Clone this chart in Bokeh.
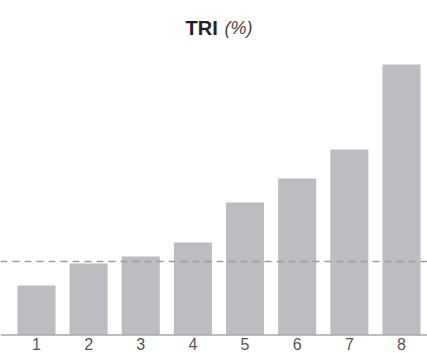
from bokeh.plotting import figure
from bokeh.models import Range1d, Span, Label, ColumnDataSource
from bokeh.core.properties import value
from bokeh.embed import file_html
from bokeh.resources import INLINE

# data
categories = [1, 2, 3, 4, 5, 6, 7, 8]
tick_labels = ["1", "2", "3", "4", "5", "6", "7", "8"]
tri_values = [1.87, 2.70, 2.96, 3.49, 5.00, 5.91, 7.00, 10.21]
average_line = 2.77

W, H = 427, 353
p = figure(width=W, height=H, output_backend="svg", toolbar_location=None,
           x_range=Range1d(0.310, 8.499), y_range=Range1d(-0.698, 12.623),
           x_axis_location=None, y_axis_location=None,
           min_border_left=0, min_border_right=0, min_border_top=0, min_border_bottom=0)
p.outline_line_color = None
p.grid.visible = False
p.background_fill_color = "white"
p.border_fill_color = "white"

src = ColumnDataSource(dict(x=categories, top=tri_values, lab=tick_labels,
                            y0=[0] * len(categories)))

p.vbar(x="x", top="top", bottom=0, width=0.73, source=src,
       fill_color="#bcbdc0", line_color=None)

# baseline (axis line)
p.add_layout(Span(location=0, dimension="width", line_color="#a8a8a8", line_width=1.5))

# average dashed line
p.add_layout(Span(location=average_line, dimension="width", line_color="#9c9c9c",
                  line_width=1.5, line_dash="7 5"))

# tick labels
p.text(x="x", y="y0", text="lab", source=src, text_align="center", text_baseline="top",
       y_offset=2.5, text_font=value("Liberation Sans"), text_font_size="16px",
       text_color="#555555")

# title
p.add_layout(Label(x=185, y=H - 27, x_units="screen", y_units="screen", text="TRI",
                   text_font="Liberation Sans", text_font_style="bold",
                   text_font_size="20px", text_color="#222222",
                   text_baseline="alphabetic", text_align="left"))
p.add_layout(Label(x=224, y=H - 27, x_units="screen", y_units="screen", text="(%)",
                   text_font="Liberation Sans", text_font_style="italic",
                   text_font_size="18px", text_color="#444444",
                   text_baseline="alphabetic", text_align="left"))

open("out.html", "w").write(file_html(p, INLINE))
